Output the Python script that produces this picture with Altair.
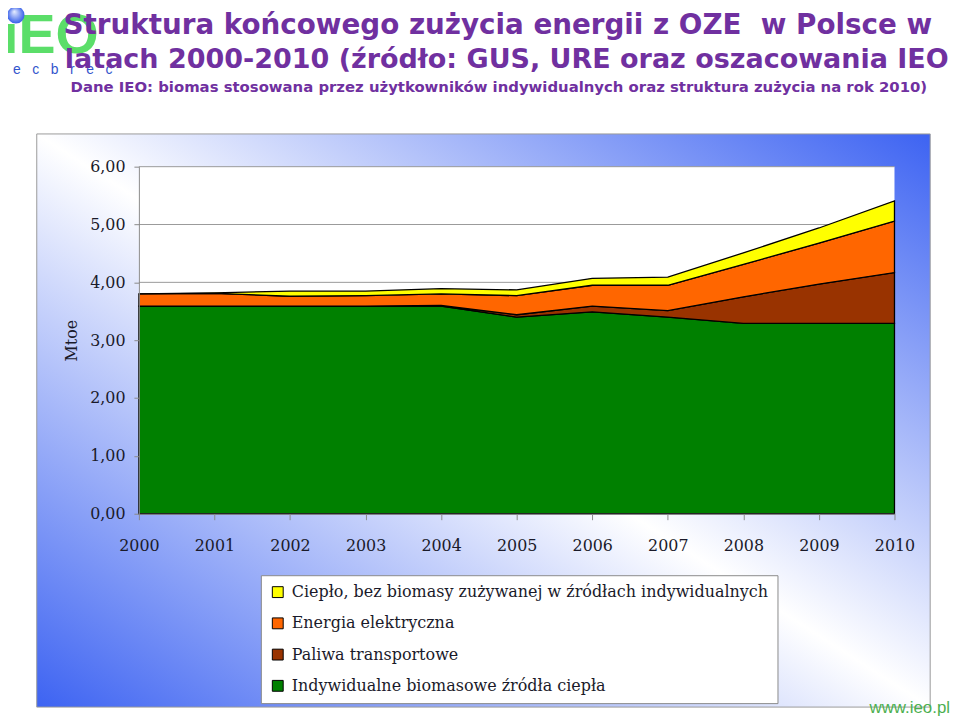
import altair as alt
import pandas as pd

# ---- data ----
years = list(range(2000, 2011))
biomasa = [3.59, 3.59, 3.59, 3.59, 3.59, 3.40, 3.49, 3.40, 3.29, 3.29, 3.29]
transport = [0.00, 0.00, 0.00, 0.00, 0.01, 0.04, 0.10, 0.11, 0.46, 0.68, 0.88]
elektr = [0.21, 0.22, 0.17, 0.18, 0.20, 0.33, 0.36, 0.44, 0.56, 0.71, 0.89]
cieplo = [0.00, 0.01, 0.09, 0.08, 0.09, 0.10, 0.12, 0.14, 0.20, 0.26, 0.35]

series_names = [
    "Ciepło, bez biomasy zużywanej w źródłach indywidualnych",
    "Energia elektryczna",
    "Paliwa transportowe",
    "Indywidualne biomasowe źródła ciepła",
]
series_colors = ["#ffff00", "#ff6600", "#993300", "#008000"]
y_ticks = [0, 1, 2, 3, 4, 5, 6]

title_line1 = "Struktura końcowego zużycia energii z OZE\u00a0 w Polsce w"
title_line2 = "latach 2000-2010 (źródło: GUS, URE oraz oszacowania IEO"
subtitle = "Dane IEO: biomas stosowana przez użytkowników indywidualnych oraz struktura zużycia na rok 2010)"

rows = []
for name, vals, order in [
    (series_names[3], biomasa, 0),
    (series_names[2], transport, 1),
    (series_names[1], elektr, 2),
    (series_names[0], cieplo, 3),
]:
    for yr, v in zip(years, vals):
        rows.append({"rok": yr, "seria": name, "wartosc": v, "kolejnosc": order})
df = pd.DataFrame(rows)

W, H = 762, 350
one = alt.Data(values=[{"t": ""}])

PURPLE = "#7030a0"
BLUE = "#3d63f2"
INK = "#1a1a2a"

y_scale = alt.Scale(domain=[0, 6], nice=False)
y_axis = alt.Axis(
    values=y_ticks, labelExpr="replace(format(datum.value, '.2f'), '.', ',')",
    title="Mtoe", grid=False, tickSize=5, tickColor="#8a8a8a",
    domainColor="#8a8a8a", labelFont="DejaVu Serif", labelFontSize=16,
    labelColor=INK, labelPadding=9, zindex=1,
    titleFont="DejaVu Serif", titleFontSize=16, titleFontWeight="normal",
    titleColor=INK, titleX=-68, titleY=H / 2, titleAngle=270,
    titleAlign="center", titleBaseline="middle",
)

# background panel with diagonal gradient
bg = alt.Chart(one).mark_rect(
    fill={
        "gradient": "linear", "x1": 1, "y1": 0, "x2": 0, "y2": 1,
        "stops": [
            {"offset": 0, "color": BLUE},
            {"offset": 0.5, "color": "#ffffff"},
            {"offset": 1, "color": BLUE},
        ],
    },
    stroke="#9a9a9a", strokeWidth=1,
).encode(x=alt.value(-103), x2=alt.value(798), y=alt.value(-33), y2=alt.value(545))

plot_bg = alt.Chart(one).mark_rect(fill="#ffffff").encode(
    x=alt.value(0), x2=alt.value(W), y=alt.value(0), y2=alt.value(H)
)

grid = alt.Chart(pd.DataFrame({"wartosc": y_ticks[1:]})).mark_rule(
    color="#9a9a9a", strokeWidth=1
).encode(
    y=alt.Y("wartosc:Q", scale=y_scale, axis=y_axis),
    x=alt.value(0), x2=alt.value(W),
)

areas = alt.Chart(df).mark_area(stroke="black", strokeWidth=1.3, opacity=1).encode(
    x=alt.X(
        "rok:Q",
        scale=alt.Scale(domain=[2000, 2010], nice=False, zero=False),
        axis=alt.Axis(
            values=years, format="d", title=None, grid=False,
            tickSize=6, tickColor="#8a8a8a", domainColor="#8a8a8a",
            labelFont="DejaVu Serif", labelFontSize=16, labelColor=INK,
            labelPadding=18, zindex=1, labelFlush=False, labelOverlap=False,
        ),
    ),
    y=alt.Y("wartosc:Q", stack="zero", scale=y_scale, axis=y_axis),
    color=alt.Color(
        "seria:N",
        scale=alt.Scale(domain=series_names, range=series_colors),
        legend=alt.Legend(
            title=None, orient="none", legendX=123, legendY=412,
            fillColor="#ffffff", strokeColor="#8a8a8a", padding=9,
            symbolType="square", symbolSize=120, symbolStrokeColor="black",
            symbolStrokeWidth=1, symbolOpacity=1,
            labelFont="DejaVu Serif", labelFontSize=16.1, labelColor=INK,
            labelLimit=0, rowPadding=14.5, labelOffset=6,
        ),
    ),
    order=alt.Order("kolejnosc:Q"),
)

def txt(text, x, y, size, color, weight="bold", font="DejaVu Sans", align="center", opacity=1):
    return alt.Chart(alt.Data(values=[{"t": text}])).mark_text(
        font=font, fontSize=size, fontWeight=weight, color=color,
        align=align, baseline="alphabetic", opacity=opacity,
    ).encode(text="t:N", x=alt.value(x), y=alt.value(y))

NB = "\u00a0"
logo_text = txt("ıEO", -137, -115, 56, "#3fd94f", font="Liberation Sans", align="left", opacity=0.85)
logo_ball = alt.Chart(one).mark_circle(
    size=300, opacity=1,
    fill={
        "gradient": "radial", "x1": 0.4, "y1": 0.3, "r1": 0, "x2": 0.5, "y2": 0.5, "r2": 0.55,
        "stops": [{"offset": 0, "color": "#e8eeff"}, {"offset": 1, "color": "#2a55e8"}],
    },
).encode(x=alt.value(-124), y=alt.value(-153))
logo_sub = txt(
    (NB * 3).join(["e", "c", "b", "r", "e", "c"]), -127, -93, 14, "#3355cc",
    weight="normal", font="Liberation Sans", align="left",
)

t1 = txt(title_line1, 362, -134, 28, PURPLE)
t2 = txt(title_line2, 371, -100, 27.2, PURPLE)
t3 = txt(subtitle, 363, -75, 15, PURPLE)
www = txt("www.ieo.pl", 818, 551, 17, "#4caf50", weight="normal", font="Liberation Sans", align="right")

chart = alt.layer(
    bg, plot_bg, grid, areas, logo_text, logo_ball, logo_sub, t1, t2, t3, www
).properties(
    width=W, height=H,
    autosize=alt.AutoSizeParams(type="none"),
    padding={"left": 132, "top": 157, "right": 58, "bottom": 205},
).configure_view(stroke=None).configure(background="#ffffff")

chart.save("out.html", embed_options={"renderer": "svg", "actions": False})
